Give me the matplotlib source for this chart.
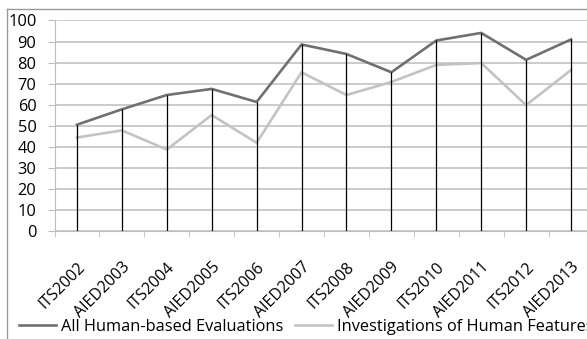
import numpy as np
import matplotlib.pyplot as plt
from matplotlib.lines import Line2D

# ==================== Data ====================
conferences = ['ITS2002', 'AIED2003', 'ITS2004', 'AIED2005', 'ITS2006', 'AIED2007',
               'ITS2008', 'AIED2009', 'ITS2010', 'AIED2011', 'ITS2012', 'AIED2013']
all_human = [50.5, 57.8, 64.6, 67.5, 61.3, 88.6, 84.1, 75.4, 90.5, 94.1, 81.3, 91.0]
human_features = [44.4, 47.8, 38.7, 55.1, 41.9, 75.4, 64.6, 70.8, 78.9, 79.8, 59.8, 76.5]
yticks = list(range(0, 101, 10))

plt.rcParams['font.family'] = ['Open Sans', 'DejaVu Sans']

W, H = 587, 339
fig = plt.figure(figsize=(W / 100, H / 100), dpi=100)
# axes runs past the right edge on purpose (the original is cropped)
ax = fig.add_axes([54.5 / W, (H - 231) / H, 539 / W, 210.5 / H])

x = np.arange(len(conferences))
dark = '#707070'
light = '#c3c3c3'

ax.plot(x, all_human, color=dark, lw=1.9, zorder=3, solid_joinstyle='miter')
ax.plot(x, human_features, color=light, lw=1.9, zorder=3, solid_joinstyle='miter')

# drop lines from the highest point down to the axis
tops = np.maximum(all_human, human_features)
ax.vlines(x, 0, tops, color='black', lw=0.9, zorder=4)

ax.set_xlim(-0.5, len(conferences) - 0.5)
ax.set_ylim(0, 100)
ax.set_yticks(yticks)
ax.set_yticklabels([str(v) for v in yticks], fontsize=11.8)
ax.grid(True, axis='y', color='#bdbdbd', lw=1.1)
ax.set_axisbelow(True)

ax.set_xticks(x)
ax.set_xticklabels(conferences, rotation=45, ha='right', rotation_mode='anchor', fontsize=11.5)
ax.set_xticks(np.arange(-0.5, len(conferences), 1), minor=True)
ax.tick_params(axis='x', which='major', length=0, pad=20)
ax.tick_params(axis='x', which='minor', length=4, color='#bdbdbd')
ax.tick_params(axis='y', length=5, color='#bdbdbd', pad=8)

for s in ['top', 'right']:
    ax.spines[s].set_visible(False)
ax.spines['left'].set_color('#bdbdbd')
ax.spines['bottom'].set_color('#bdbdbd')

# chart area border (left and top only visible)
fig.add_artist(Line2D([7 / W, 7 / W], [0, 1 - 9 / H], color='#9a9a9a', lw=1.0))
fig.add_artist(Line2D([7 / W, 1], [1 - 9 / H, 1 - 9 / H], color='#9a9a9a', lw=1.0))

handles = [Line2D([], [], color=dark, lw=1.9), Line2D([], [], color=light, lw=1.9)]
fig.legend(handles, ['All Human-based Evaluations', 'Investigations of Human Features'],
           loc='center left', bbox_to_anchor=(19 / W, (H - 327) / H), ncol=2,
           frameon=False, fontsize=11.8, handlelength=2.25, handletextpad=0.3,
           columnspacing=0.75, borderaxespad=0, borderpad=0)

fig.savefig('out.png', dpi=100)
